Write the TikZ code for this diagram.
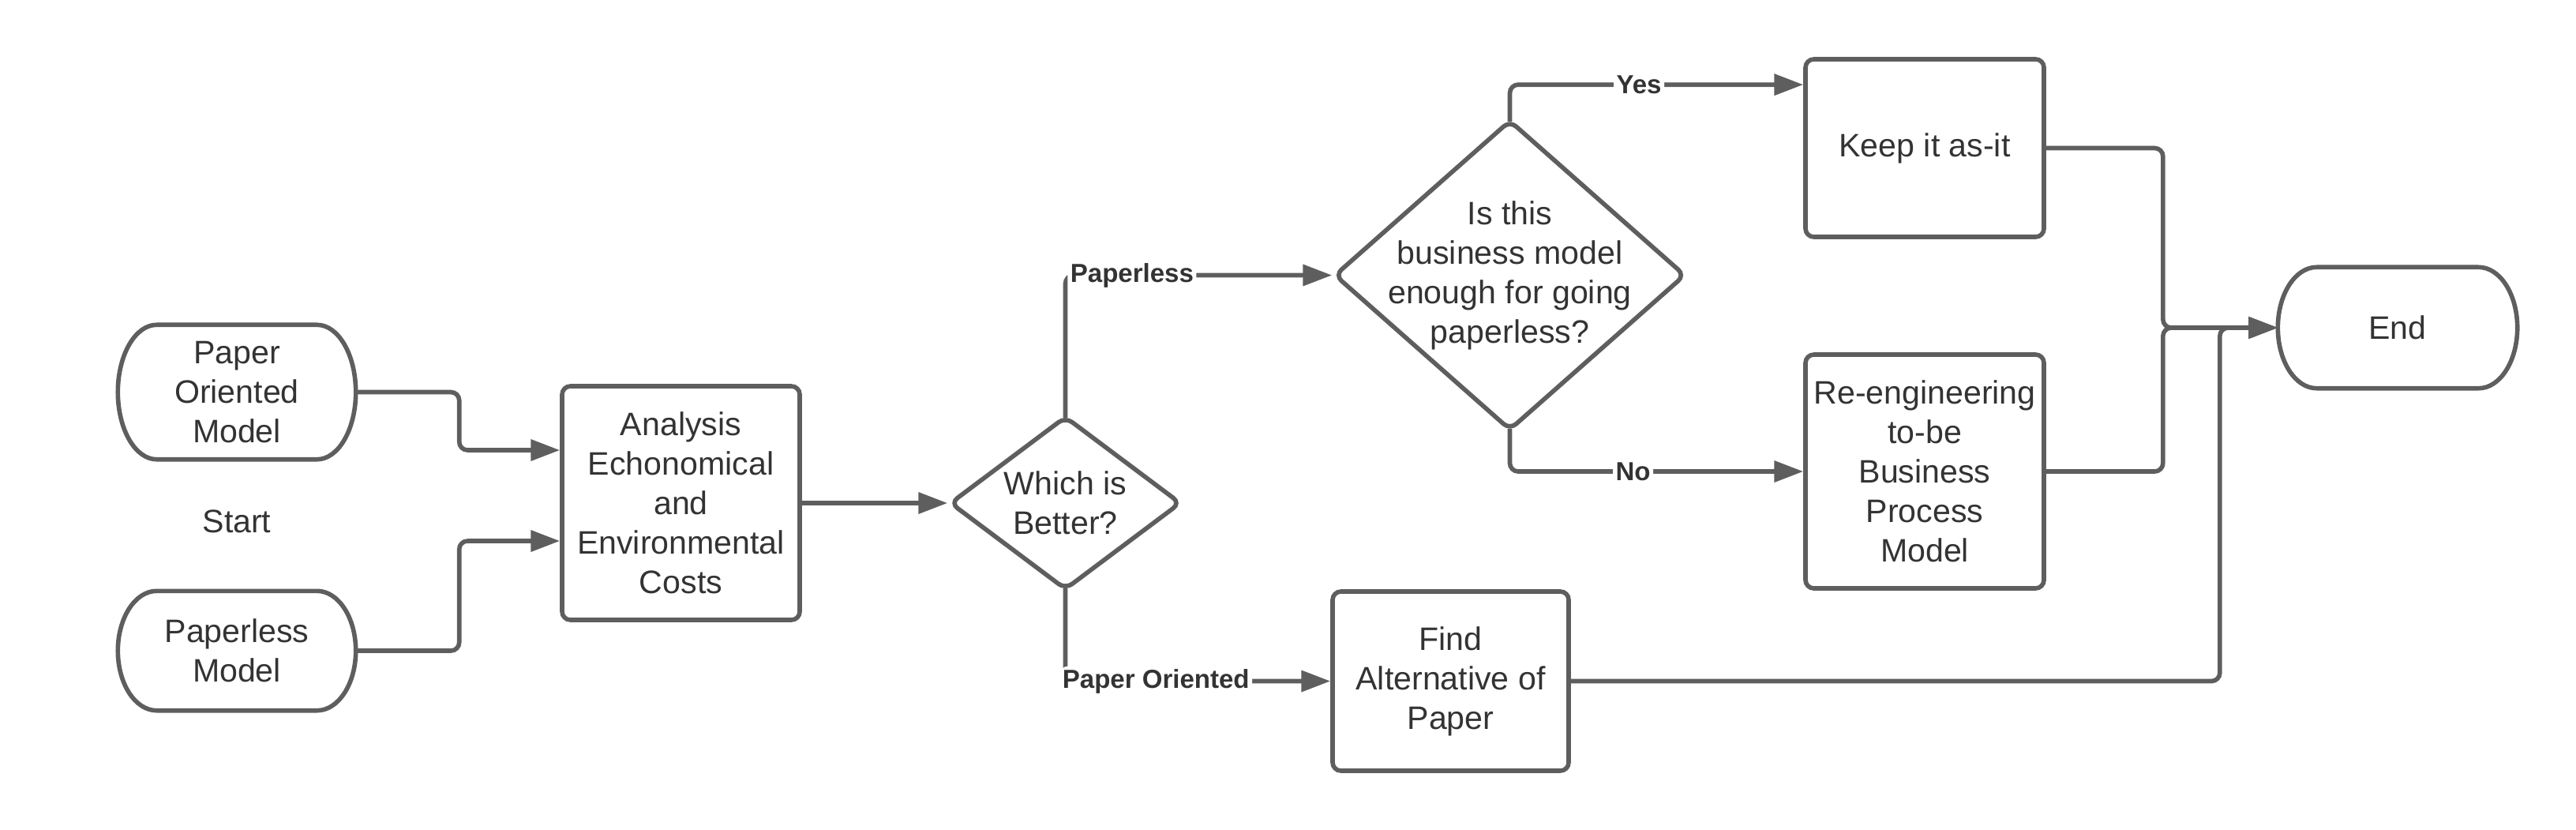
\documentclass[tikz,border=0pt]{standalone}
\usepackage{fontspec}
\setmainfont{Liberation Sans}
\usetikzlibrary{arrows.meta,calc,positioning,shapes.geometric}
\definecolor{linegray}{HTML}{5E5E5E}
\definecolor{txtgray}{HTML}{333333}
\newcommand\bodyfont{\fontsize{11.7}{14.2}\selectfont}
\newcommand\lblfont{\fontsize{9.4}{11}\selectfont\bfseries}

\begin{document}
\begin{tikzpicture}[>={Triangle[length=10.5pt,width=7.5pt]},
    txt/.style={align=center,font=\bodyfont,text=txtgray,inner sep=0pt},
    term/.style={txt},
    outline/.style={draw=linegray,line width=1.6pt},
    box/.style={txt,draw=linegray,line width=1.6pt,rounded corners=3pt},
    dec/.style={diamond,draw=linegray,line width=1.6pt,rounded corners=3pt,inner sep=0pt},
    conn/.style={->,draw=linegray,line width=1.6pt,rounded corners=3pt},
    fromtip/.style={shorten <=-1.5pt},
    lbl/.style={font=\lblfont,text=txtgray,fill=white,inner sep=1pt}]
  \useasboundingbox (0,0) rectangle (32.63,-10.50);
  \node[term,minimum width=3.00cm,minimum height=1.69cm] (pom) at (3.00,-4.965) {Paper\\Oriented\\Model};
  \node[term,minimum width=3.00cm,minimum height=1.50cm] (pm) at (3.00,-8.24) {Paperless\\Model};
  \node[txt] (start) at (3.00,-6.60) {Start};
  \node[box,minimum width=3.01cm,minimum height=2.96cm] (ana) at (8.625,-6.37) {Analysis\\Echonomical\\and\\Environmental\\Costs};
  \node[dec,minimum width=2.93cm,minimum height=2.20cm] (which) at (13.495,-6.37) {};
  \node[txt] (whichtxt) at (which) {Which is\\Better?};
  \node[dec,minimum width=4.45cm,minimum height=3.93cm] (is) at (19.125,-3.485) {};
  \node[txt] (istxt) at (is) {Is this\\business model\\enough for going\\paperless?};
  \node[box,minimum width=3.02cm,minimum height=2.25cm] (keep) at (24.38,-1.875) {Keep it as-it};
  \node[box,minimum width=3.02cm,minimum height=2.96cm] (re) at (24.38,-5.97) {Re-engineering\\to-be\\Business\\Process\\Model};
  \node[box,minimum width=2.99cm,minimum height=2.27cm] (find) at (18.375,-8.625) {Find\\Alternative of\\Paper};
  \node[term,minimum width=3.02cm,minimum height=1.52cm] (finish) at (30.37,-4.15) {End};

  \foreach \nm in {pom,pm,finish}{
    \draw[outline] let \p1=(\nm.north west), \p2=(\nm.south east), \n1={0.5*(\y1-\y2)} in
      (\x1+14pt,\y1) -- (\x2-14pt,\y1) arc[start angle=90,end angle=-90,x radius=14pt,y radius=\n1]
      -- (\x1+14pt,\y2) arc[start angle=-90,end angle=-270,x radius=14pt,y radius=\n1] -- cycle;
  }

  \draw[conn] (pom.east) -- ++(1.31,0) |- ($(ana.west)+(0,0.67)$);
  \draw[conn] (pm.east) -- ++(1.31,0) |- ($(ana.west)+(0,-0.48)$);
  \draw[conn] (ana.east) -- (which.west);
  \draw[conn,fromtip] (which.north) |- node[lbl,pos=0.5,anchor=west]{Paperless} (is.west);
  \draw[conn,fromtip] (which.south) |- node[lbl,pos=0.5,anchor=west,xshift=-0.1cm]{Paper Oriented} (find.west);
  \draw[conn,fromtip] (is.north) |- node[lbl,pos=0.72]{Yes} ($(keep.north west)+(0,-0.35)$);
  \draw[conn,fromtip] (is.south) |- node[lbl,pos=0.71]{No} (re.west);
  \draw[conn] (keep.east) -- ++(1.48,0) |- (finish.west);
  \draw[conn] (re.east) -- ++(1.48,0) |- (finish.west);
  \draw[conn] (find.east) -- ++(8.22,0) |- (finish.west);
\end{tikzpicture}
\end{document}
